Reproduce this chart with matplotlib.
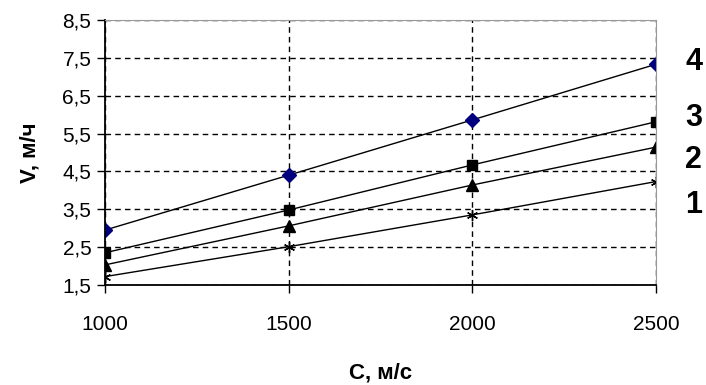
import matplotlib.pyplot as plt

plt.rcParams['font.family'] = ['Liberation Sans', 'DejaVu Sans']

c = [1000, 1500, 2000, 2500]
v1 = [1.72, 2.51, 3.35, 4.23]
v2 = [2.03, 3.06, 4.14, 5.14]
v3 = [2.35, 3.48, 4.67, 5.81]
v4 = [2.95, 4.40, 5.86, 7.33]
yticks = [1.5, 2.5, 3.5, 4.5, 5.5, 6.5, 7.5, 8.5]
ytick_labels = ['1,5', '2,5', '3,5', '4,5', '5,5', '6,5', '7,5', '8,5']
curve_names = ['1', '2', '3', '4']
name_y = [3.61, 4.80, 5.91, 7.39]

fig = plt.figure(figsize=(7.06, 3.85), dpi=100)
ax = fig.add_axes([0.149, 0.26, 0.78, 0.688])

ax.plot(c, v1, color='black', lw=1, marker=(6, 2, 0), ms=8, mew=1)
ax.plot(c, v2, color='black', lw=1, marker='^', ms=8)
ax.plot(c, v3, color='black', lw=1, marker='s', ms=7)
ax.plot(c, v4, color='black', lw=1, marker='D', ms=7, mfc='#00007f', mec='#00007f')

ax.set_xlim(1000, 2500)
ax.set_ylim(1.5, 8.5)
ax.set_xticks(c)
ax.set_yticks(yticks)
ax.set_yticklabels(ytick_labels)
ax.tick_params(labelsize=15, length=6, width=1, colors='black', pad=4)
ax.tick_params(axis='x', pad=16)
ax.grid(True, color='black', ls=(0, (4, 3)), lw=1)

for side in ['top', 'right']:
    ax.spines[side].set_color('#999999')
for side in ['left', 'bottom']:
    ax.spines[side].set_color('black')
    ax.spines[side].set_linewidth(1.3)

ax.set_xlabel('C, м/с', fontsize=16, fontweight='bold', labelpad=20)
ax.set_ylabel('V, м/ч', fontsize=16, fontweight='bold', labelpad=16)

for name, y in zip(curve_names, name_y):
    ax.text(2603, y, name, fontsize=22, fontweight='bold', ha='center', va='center',
            clip_on=False)

fig.savefig('out.png', dpi=100)
